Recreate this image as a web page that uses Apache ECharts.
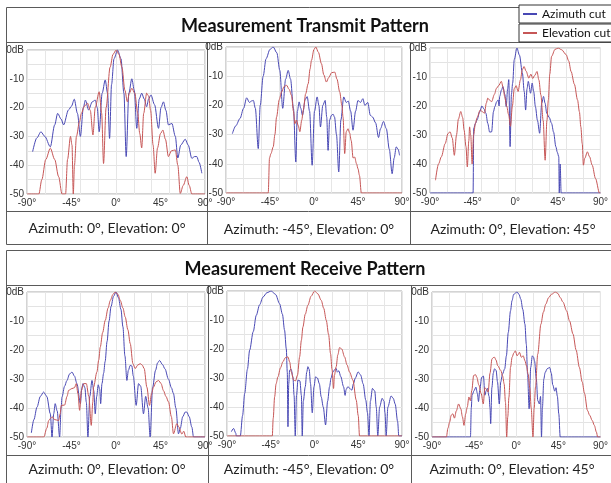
<!DOCTYPE html>
<html><head><meta charset="utf-8">
<script src="https://cdn.jsdelivr.net/npm/echarts@6/dist/echarts.min.js"></script>
<style>html,body{margin:0;padding:0;background:#fff}#c{width:611px;height:483px}</style>
</head><body><div id="c"></div>
<script>
// ---- DATA: [angle (deg), level (dB)] ----
const tx1Az=[[-84.3,-35.3],[-80,-30.5],[-75.9,-28.4],[-72,-30],[-66.4,-33.6],[-62,-26],[-59,-22],[-55.5,-24],[-53,-26],[-48,-20.8],[-45,-19.5],[-42.2,-17.1],[-39,-22],[-36,-30],[-33,-20],[-31,-17.4],[-27.7,-20.8],[-24,-18],[-21,-17.4],[-19,-20],[-17,-28.4],[-14,-15],[-10.9,-10.4],[-8.5,-15],[-6.5,-30.7],[-4.5,-12],[-2,-3],[1.6,0],[5,-3],[8,-15],[10.3,-37],[13,-15],[16,-10],[18.5,-14],[21,-27.2],[23.5,-17],[26,-15],[28.5,-17],[31,-19.7],[33,-17],[35.3,-15.6],[39,-19],[43,-27.2],[45.5,-20],[48,-18],[50.5,-21],[53,-26],[56.5,-25.5],[60,-30],[62.5,-37.5],[65.5,-33],[70,-31],[73,-33],[76.7,-37.6],[79.5,-37],[81.7,-37],[84,-39],[86.8,-42.8]];
const tx1El=[[-90,-50],[-78,-50],[-75,-45],[-71,-38],[-66.4,-34.1],[-62,-38],[-58,-44],[-54.6,-50],[-51,-50],[-49,-38],[-46,-30],[-44.5,-33],[-43.2,-50],[-42,-40],[-40,-30],[-37,-25],[-35,-22],[-32,-19.5],[-28.7,-18.5],[-26,-21],[-23.3,-29.5],[-21,-20],[-17,-14.5],[-14.5,-22],[-12.6,-39.4],[-10,-20],[-6,-6],[-3,-1.5],[0.2,0],[3,-1.5],[6,-6],[9,-14],[11.5,-18],[13.5,-15],[16,-13.3],[19,-15],[22,-22],[24,-29],[26,-34],[28,-22],[31,-15],[33,-16],[35,-21],[37.5,-33],[39.6,-42.8],[42,-34],[45,-29],[47.4,-27.8],[50,-31],[53,-37],[56,-35],[60,-34.7],[62.5,-40],[65,-49.8],[68,-47],[71.6,-44],[74,-47],[76.7,-50],[90,-50]];
const tx2Az=[[-83.5,-29.7],[-80,-27],[-75.7,-24.5],[-72,-21],[-68.9,-17.4],[-66,-19],[-64,-18.5],[-62,-18.3],[-60,-21],[-57,-34.8],[-55,-20],[-52,-10],[-49,-4],[-45,-0.8],[-41.7,0],[-38,-2],[-35,-8],[-32,-21],[-29,-11],[-26.4,-8],[-24,-11],[-21,-21],[-18.6,-39.4],[-17,-22],[-15.2,-18.8],[-13.5,-21],[-11.8,-23.4],[-9,-18],[-7,-17],[-4.5,-22],[-1.9,-40.5],[0.5,-22],[3.2,-17.1],[5,-20],[6.6,-27.4],[9,-20],[11.4,-18.3],[13,-24],[14.4,-35.4],[16,-25],[17.8,-23.4],[19.5,-23],[21,-24],[23,-30],[25.3,-42.8],[27.5,-25],[30.4,-17.1],[33,-19],[35,-18.5],[37.5,-22],[39.9,-28.5],[42.5,-22],[45,-18.3],[47.5,-19],[50,-17.7],[52,-20],[55,-19],[57.6,-23.4],[60,-24],[63,-26],[66,-31],[68,-28],[71,-25.5],[74,-28],[77,-35],[79.9,-43.4],[82,-38],[84.1,-34.2],[86,-35],[87.5,-37.1]];
const tx2El=[[-90,-50],[-46.8,-50],[-45.5,-38],[-44,-36.5],[-41.7,-34.2],[-40,-30],[-38.3,-24],[-35.5,-18],[-33.2,-15.4],[-30.5,-13.5],[-28,-13.1],[-25.5,-14.5],[-23,-16.6],[-21,-22],[-19.6,-26.3],[-18,-25],[-16,-27],[-14.5,-29],[-12.5,-25],[-11,-21.7],[-8.5,-16],[-6,-12.6],[-4,-7.5],[-2.6,-4.6],[0,-0.8],[1.8,0],[4.5,-1.8],[7.6,-5.7],[10,-9.5],[12.7,-12],[15,-10.5],[18,-8.8],[21.2,-8.6],[23.5,-11],[26.3,-15.4],[28.5,-20],[29.7,-24],[31.4,-36.5],[33,-29],[34.8,-28],[36.5,-29.5],[38,-32],[40,-38],[41.6,-37.7],[43.5,-40],[45,-41.7],[46.5,-44],[48.4,-50],[90,-50]];
const tx3Az=[[-90,-50],[-44.5,-50],[-43.8,-27.7],[-42,-26],[-40.3,-24.8],[-37.5,-22],[-35.2,-20],[-33,-21],[-31,-22.5],[-29,-26],[-27,-29],[-24.9,-28.9],[-23,-22],[-21.5,-20.2],[-19.5,-18.5],[-18,-17.9],[-17,-20],[-16.4,-16.7],[-14.5,-14.5],[-13,-13.3],[-11,-16],[-9.5,-20.2],[-8,-14],[-6.8,-10.9],[-5.4,-34],[-4,-16],[-2.7,-12.1],[-1,-4],[1.8,0],[4.5,-2.5],[7.6,-8.7],[9.5,-15],[11,-21.4],[12.5,-14],[13.8,-11.5],[16.2,-15.6],[17.9,-12.1],[19.5,-15],[21.3,-20.2],[23.5,-25],[25.8,-29.4],[28,-19],[29.9,-16.7],[31.5,-19],[33.3,-22.5],[36,-24],[38.4,-26],[40.5,-29],[42.9,-34],[44.5,-36],[46,-37.5],[46.5,-50],[47.5,-40],[48.5,-50],[90,-50]];
const tx3El=[[-84.2,-45.6],[-81,-40],[-78,-37.5],[-74,-33],[-71,-29.5],[-68.8,-28.9],[-66.5,-31],[-64.3,-37],[-62,-30],[-60,-24.5],[-57.5,-21.9],[-55.5,-24],[-54,-28.3],[-52,-34],[-50.6,-41],[-49,-32],[-48.2,-27.2],[-47,-30],[-45.5,-40],[-44,-30],[-42,-26],[-40.3,-24],[-37,-21.4],[-34.5,-22],[-32.5,-22.5],[-30.5,-19],[-29,-17.3],[-27,-18],[-24.9,-18.5],[-22,-16],[-19.8,-13.9],[-17.5,-13],[-14.7,-11.5],[-12.5,-14],[-11.2,-16.7],[-9,-20],[-7,-23],[-5,-27],[-3,-20],[-1,-14],[1,-13],[3,-15],[5.5,-11],[7.5,-7.5],[9.3,-6.4],[11.5,-8],[14.4,-10.4],[16.5,-9],[18.5,-10.5],[20.5,-9.5],[23,-8.1],[25,-11],[27.1,-16.2],[29.5,-25],[31.6,-38.7],[33.5,-25],[35,-17.9],[36.5,-9],[38.4,-2.9],[42,-0.5],[45.3,0],[49,-0.6],[53.8,-2.3],[56.5,-4.5],[59,-8.1],[62.5,-12.5],[65.8,-17.9],[67.8,-22],[69.3,-27.2],[70.8,-33],[72,-40.4],[73.5,-38],[76.2,-35.8],[78.5,-37.5],[81.3,-40.4],[84.8,-45],[89,-50],[90,-50]];
const rx1Az=[[-85.6,-48.6],[-83,-44],[-79.9,-39.7],[-76.5,-36],[-73.2,-34.5],[-70,-36],[-66.4,-42],[-64.7,-50],[-63,-42],[-61.5,-38.5],[-59.5,-41],[-57,-50],[-55.5,-40],[-54.6,-36.2],[-52,-32.5],[-49.6,-30.5],[-47,-28.3],[-44.5,-27.6],[-42,-29],[-39.5,-31.6],[-36,-38.5],[-34.5,-33],[-33.4,-31.6],[-31.5,-33],[-30,-38],[-28.4,-50],[-26.5,-36],[-24.3,-30.5],[-22.5,-34],[-21,-42],[-19.5,-36],[-18,-32],[-16.5,-33.5],[-15.5,-38.5],[-14.2,-31.6],[-12.5,-28],[-11,-24],[-9,-17],[-7,-10],[-5,-5],[-2.5,-1.5],[0,0],[2.5,-2],[5,-6],[7,-12],[9,-22],[11,-30.5],[12.5,-27],[14.4,-25.3],[16,-25.5],[17.5,-29],[20.4,-39.1],[22.8,-31.6],[25,-32.5],[27.8,-42],[30,-36],[32.5,-40],[34.5,-50],[37,-33],[40,-27],[42,-24.5],[44,-23.6],[47,-25],[49.5,-26.5],[53,-30],[56,-33],[58.1,-35],[60.5,-40],[63.2,-48.9],[65,-47],[67.5,-43],[70,-41.4],[71.6,-41.4],[74,-43],[76.7,-46.6],[78.4,-50],[90,-50]];
const rx1El=[[-90,-50],[-73,-50],[-70,-47],[-68,-44.3],[-66,-43.5],[-64.7,-43],[-62,-44],[-58,-44.3],[-56.5,-42],[-55.3,-39.1],[-52,-39],[-49.5,-36],[-47.9,-33.9],[-44.5,-33.3],[-42,-33],[-40.2,-31.6],[-38.5,-35],[-36.8,-40.8],[-35,-34],[-32.8,-31.6],[-30,-31.6],[-27.5,-36],[-25,-46],[-23.5,-38],[-22.7,-32.8],[-19.3,-27.6],[-17.5,-23.5],[-15.9,-19],[-13.5,-14],[-10.9,-9.8],[-8,-5.5],[-5.8,-2.9],[-3,-0.8],[-0.8,0],[2,-0.8],[4.3,-2.9],[7,-5.5],[9.3,-8.6],[12,-13],[14.4,-17.8],[17.1,-24.7],[19.4,-26.4],[22,-25.2],[24.5,-24.7],[26.5,-25.2],[28.5,-26.4],[31.2,-32.8],[33.9,-39.1],[36,-35],[37.9,-32.8],[40.5,-31],[43,-30.5],[45.5,-31.5],[48,-34],[50.5,-36],[53.1,-37.9],[56,-43],[58.1,-48.9],[61.5,-45.4],[63.5,-46.5],[66.6,-49],[68.5,-48],[70.6,-50],[90,-50]];
const rx2Az=[[-85.5,-48.5],[-83.2,-47.4],[-81,-49],[-80.4,-50],[-76.3,-50],[-74,-43],[-71.8,-35.3],[-69,-27],[-66.7,-20.4],[-63,-14],[-59.9,-8.4],[-56.5,-4.8],[-53,-2.1],[-49,-0.6],[-44.5,0],[-40,-1.2],[-35.9,-4.4],[-33,-8],[-30.8,-13.5],[-29,-20],[-28,-28],[-27.3,-46.8],[-26.5,-32],[-25.6,-27.3],[-24,-27],[-22.2,-29.6],[-21,-36],[-19.8,-50],[-18.5,-36],[-17,-30.7],[-15,-31],[-13.5,-36],[-12.6,-50],[-11.5,-38],[-9.5,-33],[-8,-28],[-6.8,-26.1],[-5.5,-27],[-4.1,-31.9],[-2.3,-42],[-0.5,-33],[1.1,-29.6],[3,-30],[5,-32],[6.9,-36.5],[9,-40],[11.4,-46.2],[13.5,-38],[15.5,-33],[17,-30],[19,-27.9],[21,-27],[22.3,-26.7],[23.5,-28],[25,-27.5],[27,-29.5],[29.9,-33],[31.5,-36],[32.5,-34],[34.3,-33],[36,-33.5],[38.4,-34.2],[40,-32],[42,-30],[44.9,-27.9],[47.5,-29],[50,-32],[52.7,-37.6],[54.5,-42],[56.1,-50],[57.5,-38],[59.6,-33.6],[62,-34.5],[63.5,-40],[65.1,-50],[67,-40],[69.6,-37],[71.5,-38],[72.5,-42],[73.7,-50],[75.5,-40],[78.8,-36.2],[81,-37],[83,-39],[85.5,-45],[86.7,-50],[90,-50]];
const rx2El=[[-90,-50],[-43.4,-50],[-42.5,-44],[-41,-36.5],[-39.5,-32],[-37.6,-29.6],[-35,-26.5],[-32.5,-24.4],[-30,-23],[-27.3,-22.7],[-25.5,-24.5],[-23.9,-27.9],[-21.5,-30.7],[-19.5,-31],[-17.5,-29],[-15.3,-22.7],[-13.5,-17],[-11.9,-12.4],[-9.5,-8],[-6.8,-4.9],[-3.5,-1.8],[0.07,0],[3.5,-1],[6.9,-3.2],[9.5,-6],[12.1,-10.1],[14.5,-15],[16.5,-21.6],[18,-27],[19.6,-33.6],[20.5,-29],[22.3,-26.1],[24,-22],[25.8,-19.5],[28,-20],[30.9,-22.7],[33.5,-25.5],[36,-27.9],[39.5,-30.7],[42.9,-37.6],[45,-43],[46.3,-50],[90,-50]];
const rx3Az=[[-90,-50],[-48.9,-50],[-48,-40],[-47.2,-35.6],[-45,-34],[-43.1,-32.8],[-41.5,-35],[-40.3,-37.8],[-39,-34],[-36.9,-29.4],[-35,-29],[-33.5,-35.6],[-32,-34],[-30.8,-33.2],[-29,-36],[-28,-40],[-27.3,-45.4],[-26,-33],[-24.5,-28],[-23.2,-26.5],[-21.5,-27],[-20,-31],[-18.1,-38.6],[-16.5,-31],[-14.7,-28.3],[-12.3,-26.5],[-10.5,-22],[-8.5,-14],[-6.1,-6.5],[-4.5,-3],[-2.7,-0.8],[0.8,0],[3,-0.8],[4.9,-2.5],[7,-6],[9.3,-11.1],[10.8,-18],[12.1,-28.3],[13.8,-40.3],[15.5,-26],[17.2,-22],[18.5,-22.5],[19.6,-23.8],[21.5,-30],[23,-37.4],[24.7,-38.6],[26,-36],[27,-50],[28,-40],[29.5,-30],[30.9,-27.8],[33,-26.5],[35.7,-26],[37.5,-28],[39,-32],[41.2,-34.2],[42.5,-33],[44,-36],[45.5,-42],[47,-50],[90,-50]];
const rx3El=[[-90,-50],[-74.6,-50],[-73,-47],[-71.2,-44.9],[-69.5,-42.5],[-67.7,-42],[-66,-43.5],[-64,-41],[-61.6,-38.6],[-59.2,-40.3],[-57.5,-43],[-55.8,-46],[-54,-42],[-52.3,-39.7],[-50.6,-36.2],[-49,-37.5],[-47.5,-34],[-45.5,-28.8],[-43.5,-28.5],[-42.1,-29.4],[-40,-32],[-37.5,-35],[-35.2,-38.6],[-33.5,-33],[-32,-33.5],[-30,-34.5],[-28,-28],[-25.9,-23.1],[-24.5,-22.6],[-23.2,-22.5],[-21.5,-23.5],[-19.8,-25.4],[-16.4,-27.1],[-14.5,-29],[-12.9,-31.7],[-11.5,-38],[-10.2,-50],[-9,-43],[-7.8,-36.3],[-6.1,-26],[-4.4,-22.5],[-2.5,-21],[-1,-20.3],[1,-22],[2.2,-21.5],[3.5,-20.8],[5.5,-22.5],[7.5,-22],[9.3,-23.7],[11,-25.5],[12.7,-28.3],[14.5,-33],[16,-40],[17.9,-50],[19.2,-40],[20.6,-32.8],[23,-21.4],[26.4,-11.1],[29,-7],[31.6,-4.2],[34.5,-2],[37.7,-0.8],[41.8,0],[44.5,-0.5],[47,-1.9],[50,-3.5],[53.8,-6.5],[57,-10],[60.7,-14.5],[64,-20],[67.5,-26],[70.5,-31],[73,-35],[76.1,-40.8],[78.5,-42.5],[81.2,-44.3],[83.5,-46],[85.7,-48.3],[87,-50],[90,-50]];

const sectionTitles=['Measurement Transmit Pattern','Measurement Receive Pattern'];
const captions=['Azimuth: 0°, Elevation: 0°','Azimuth: -45°, Elevation: 0°','Azimuth: 0°, Elevation: 45°'];
const seriesNames=['Azimuth cut','Elevation cut'];
const xTicks=[-90,-45,0,45,90];
const yTicks=[0,-10,-20,-30,-40,-50];

// ---- LAYOUT ----
const BLUE='#4848b4', RED='#c65656';
const panels=[
 {az:tx1Az,el:tx1El,g:{left:27,top:50,width:178,height:144}},
 {az:tx2Az,el:tx2El,g:{left:226,top:47,width:176,height:146}},
 {az:tx3Az,el:tx3El,g:{left:430,top:48,width:175,height:145}},
 {az:rx1Az,el:rx1El,g:{left:27,top:292,width:178,height:145}},
 {az:rx2Az,el:rx2El,g:{left:227,top:291,width:175,height:145}},
 {az:rx3Az,el:rx3El,g:{left:432,top:292,width:175,height:145}}
];
const capPos=[[107,228],[309,229],[513,229],[107,469],[309,469],[512,469]];

const grids=[],xAxes=[],yAxes=[],series=[];
panels.forEach((p,i)=>{
  grids.push(Object.assign({show:true,borderColor:'#a9a9a9',borderWidth:1,backgroundColor:'#fff'},p.g));
  const lbl={fontFamily:'Liberation Sans',fontSize:10,color:'#333'};
  xAxes.push({gridIndex:i,type:'value',min:-90,max:90,interval:45,
    axisLine:{show:false},axisTick:{show:false},splitLine:{show:false},
    axisLabel:Object.assign({margin:4,formatter:v=>xTicks.includes(v)?v+'°':''},lbl)});
  xAxes.push({gridIndex:i,type:'value',min:-90,max:90,interval:18,
    axisLine:{show:false},axisTick:{show:false},axisLabel:{show:false},
    splitLine:{show:true,lineStyle:{color:'#e6e6e6',width:1}}});
  yAxes.push({gridIndex:i,type:'value',min:-50,max:0,interval:10,
    axisLine:{show:false},axisTick:{show:false},
    splitLine:{show:true,lineStyle:{color:'#e3e3e3',width:1}},
    minorTick:{show:false,splitNumber:2},
    minorSplitLine:{show:true,lineStyle:{color:'#e3e3e3',width:1}},
    axisLabel:Object.assign({margin:3,formatter:v=>yTicks.includes(v)?(v===0?'0dB':String(v)):''},lbl)});
  [[p.az,BLUE,0],[p.el,RED,1]].forEach(([d,c,k])=>{
    series.push({type:'line',name:seriesNames[k],xAxisIndex:2*i,yAxisIndex:i,data:d,
      symbol:'none',smooth:0.3,smoothMonotone:'x',clip:true,
      itemStyle:{color:c},lineStyle:{color:c,width:1},z:3+k});
  });
});

const S={stroke:'#5a5a5a',lineWidth:1};
const L=(x1,y1,x2,y2)=>({type:'line',shape:{x1,y1,x2,y2},style:S,silent:true});
const graphic=[
  {type:'rect',shape:{x:6.5,y:7.5,width:610,height:237},style:{fill:null,stroke:'#5a5a5a',lineWidth:1}},
  L(6,42.5,611,42.5),L(6,211.5,611,211.5),L(207.5,42,207.5,245),L(410.5,42,410.5,245),
  {type:'rect',shape:{x:6.5,y:250.5,width:610,height:240},style:{fill:null,stroke:'#5a5a5a',lineWidth:1}},
  L(6,285.5,611,285.5),L(6,455.5,611,455.5),L(208.5,285,208.5,483),L(411.5,285,411.5,483),
  {type:'text',x:305,y:26,style:{text:sectionTitles[0],fill:'#111',font:'bold 18px Lato',textAlign:'center',textVerticalAlign:'middle'}},
  {type:'text',x:305,y:269,style:{text:sectionTitles[1],fill:'#111',font:'bold 18px Lato',textAlign:'center',textVerticalAlign:'middle'}}
];
capPos.forEach((c,i)=>graphic.push({type:'text',x:c[0],y:c[1],
  style:{text:captions[i%3],fill:'#222',font:'14px Lato',textAlign:'center',textVerticalAlign:'middle'}}));

const legendBase={orient:'horizontal',selectedMode:false,icon:'rect',itemWidth:14,itemHeight:2,itemGap:0,
  borderColor:'#333',borderWidth:1,backgroundColor:'#fff',padding:[3,7,3,4],
  textStyle:{fontFamily:'Lato',fontSize:12,color:'#111'}};
const legend=[
  Object.assign({},legendBase,{left:519,top:5,data:[seriesNames[0]]}),
  Object.assign({},legendBase,{left:519,top:24,data:[seriesNames[1]]})
];

const chart=echarts.init(document.getElementById('c'),null,{renderer:'canvas'});
chart.setOption({animation:false,backgroundColor:'#fff',grid:grids,xAxis:xAxes,yAxis:yAxes,series,legend,graphic});
</script></body></html>
